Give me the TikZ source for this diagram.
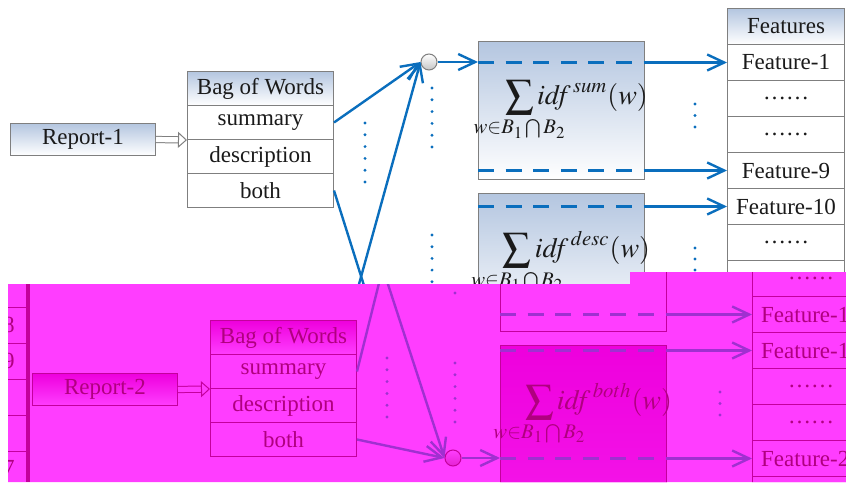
\documentclass[tikz,border=0pt]{standalone}
\usepackage{mathptmx}
\usepackage{mathtools}
\usepackage{fontspec}
\setmainfont{Liberation Serif}
\usetikzlibrary{arrows.meta}
\definecolor{edgegray}{HTML}{7F7F7F}
\definecolor{flowblue}{HTML}{0A6EBD}
\definecolor{shadeblue}{HTML}{B4C6E0}
\definecolor{inkgray}{HTML}{1A1A1A}
\definecolor{magback}{HTML}{FF3DFF}
\definecolor{magdeep}{HTML}{EE00DD}
\definecolor{magink}{HTML}{B0007F}
\definecolor{magedge}{HTML}{C4009C}
\definecolor{magflow}{HTML}{A030D0}
\colorlet{edgec}{edgegray}
\colorlet{inkc}{inkgray}
\colorlet{flowc}{flowblue}
\colorlet{shadec}{shadeblue}
\colorlet{paperc}{white}
\newcommand{\idfsum}[1]{\makebox[0pt]{\hspace{15pt}$\displaystyle\sum_{\mathclap{w\in B_1\bigcap B_2}}\mathit{idf}^{\mkern2mu#1}(w)$}}
\tikzset{
  every node/.style={font=\fontsize{11.5}{13}\selectfont, text=inkc},
  cell/.style={
    rectangle, draw=edgec, fill=paperc, line width=0.5pt,
    minimum width=73pt, minimum height=17pt, inner sep=0pt,
    anchor=north west
  },
  headcell/.style={cell, top color=shadec, bottom color=paperc},
  featcell/.style={cell, minimum width=58.5pt, minimum height=18pt},
  idfbox/.style={
    rectangle, draw=edgec, fill=paperc, line width=0.5pt,
    minimum width=83pt, minimum height=69pt, inner sep=0pt,
    anchor=north west
  },
  shadedbox/.style={idfbox, top color=shadec, bottom color=paperc},
  formula/.style={font=\fontsize{14}{17}\selectfont},
  joint/.style={
    circle, draw=edgec, line width=0.5pt,
    top color=paperc, bottom color=edgec!45!paperc,
    minimum size=8pt, inner sep=0pt
  },
  flow/.style={draw=flowc, line width=1.2pt, -{Straight Barb[length=8.5pt,width=8pt]}},
  plainflow/.style={draw=flowc, line width=1.2pt},
  dashflow/.style={draw=flowc, line width=1.5pt, dash pattern=on 8pt off 5.8pt},
  hollow/.style={
    draw=edgec, line width=0.5pt, double=paperc, double distance=2.6pt,
    -{Triangle[open, length=4.5pt, width=8pt]}
  },
}

\begin{document}
\begin{tikzpicture}[x=0.5pt, y=-0.5pt]
  \useasboundingbox (0,0) rectangle (846,482);

  % report and bag of words
  \node[headcell, minimum width=72.5pt, minimum height=16pt] (rep1) at (10,123) {Report-1};
  \node[headcell] (bag1-0) at (187,71) {Bag of Words};
  \foreach \t [count=\i] in {summary, description, both}
    \node[cell] (bag1-\i) at (187,{71+34*\i}) {\t};
  \draw[hollow] (rep1.east) -- (bag1-1.south west);

  % features table
  \node[featcell, top color=shadec, bottom color=paperc] (feat-0) at (727,8) {Features};
  \foreach \t [count=\i] in {Feature-1, ……, ……, Feature-9, Feature-10, ……, {}}
    \node[featcell] (feat-\i) at (727,{8+36*\i}) {\t};

  % idf boxes
  \node[shadedbox, formula] (sumbox) at (478,41) {\idfsum{sum}};
  \node[shadedbox, formula] (descbox) at (478,193) {\idfsum{desc}};
  \node[joint] (circ1) at (429,62) {};

  \coordinate (cut1) at (367,295);
  \coordinate (cut2) at (356,295);
  \draw[flow] (bag1-1.east) -- (circ1.west);
  \draw[plainflow] (bag1-3.east) -- (cut1);
  \draw[flow] (cut2) -- (circ1.west);
  \draw[flow] (circ1) -- (circ1 -| sumbox.west);
  \draw[dashflow] (sumbox.west |- feat-1) -- (sumbox.east |- feat-1);
  \draw[dashflow] (sumbox.west |- feat-4) -- (sumbox.east |- feat-4);
  \draw[dashflow] (descbox.west |- feat-5) -- (descbox.east |- feat-5);
  \foreach \n in {1,4}
    \draw[flow] (sumbox.east |- feat-\n) -- (feat-\n.west);
  \draw[flow] (descbox.east |- feat-5) -- (feat-5.west);

  % dotted gaps
  \foreach \i in {0,...,5} {
    \fill[flowc] (365,{123+11.8*\i}) circle (0.8pt);
    \fill[flowc] (432,{88+11.8*\i}) circle (0.8pt);
  }
  \foreach \i in {0,...,4}
    \fill[flowc] (432,{235+11.7*\i}) circle (0.8pt);
  \foreach \i in {0,1,2} {
    \fill[flowc] (695,{104+11.5*\i}) circle (0.8pt);
    \fill[flowc] (695,{248+11*\i}) circle (0.8pt);
  }

  % magenta overlay
  \fill[magback] (8,284) -- (630,284) -- (630,272) -- (846,272) -- (846,482) -- (8,482) -- cycle;
  \begin{scope}
    \clip (8,284) -- (630,284) -- (630,272) -- (846,272) -- (846,482) -- (8,482) -- cycle;
    \colorlet{edgec}{magedge}
    \colorlet{inkc}{magink}
    \colorlet{flowc}{magflow}
    \colorlet{shadec}{magdeep}
    \colorlet{paperc}{magback}

    % left strip
    \foreach \y in {271,307,343,379,415,451}
      \draw[edgec, line width=0.5pt] (8,\y) -- (27,\y);
    \draw[edgec, line width=2pt] (28,284) -- (28,482);
    \node[anchor=east, inner sep=0pt] (strip-1) at (15,325) {Feature-18};
    \node[anchor=east, inner sep=0pt] (strip-2) at (15,361) {Feature-19};
    \node[anchor=east, inner sep=0pt] (strip-5) at (15,468) {Feature-27};

    \node[headcell, minimum width=72.5pt, minimum height=16pt] (rep2) at (32,373) {Report-2};
    \node[headcell] (bag2-0) at (210,320) {Bag of Words};
    \foreach \t [count=\i] in {summary, description, both}
      \node[cell] (bag2-\i) at (210,{320+34*\i}) {\t};
    \draw[hollow] (rep2.east) -- (bag2-1.south west);

    \foreach \t [count=\i from 0] in {……, Feature-18, Feature-19, ……, ……, Feature-27, {}}
      \node[featcell] (mfeat-\i) at (752,{260+36*\i}) {\t};

    \node[idfbox] (descbox2) at (500,193) {};
    \node[shadedbox, formula, bottom color=magdeep!70!magback] (bothbox) at (500,345)
      {\idfsum{both}};
    \node[joint] (circ2) at (453,458) {};

    \coordinate (cut3) at (381,275);
    \coordinate (cut4) at (385,275);
    \draw[plainflow] (bag2-1.east) -- (cut3);
    \draw[flow] (cut4) -- (circ2.west);
    \draw[flow] (bag2-3.east) -- (circ2.west);
    \draw[flow] (circ2) -- (circ2 -| bothbox.west);
    \draw[dashflow] (descbox2.west |- mfeat-1) -- (descbox2.east |- mfeat-1);
    \draw[dashflow] (bothbox.west |- mfeat-2) -- (bothbox.east |- mfeat-2);
    \draw[dashflow] (bothbox.west |- mfeat-5) -- (bothbox.east |- mfeat-5);
    \draw[flow] (descbox2.east |- mfeat-1) -- (mfeat-1.west);
    \foreach \n in {2,5}
      \draw[flow] (bothbox.east |- mfeat-\n) -- (mfeat-\n.west);

    \fill[flowc] (455,293) circle (0.8pt);
    \foreach \i in {0,...,5} {
      \fill[flowc] (455,{363+11.8*\i}) circle (0.8pt);
      \fill[flowc] (387,{358+11.8*\i}) circle (0.8pt);
    }
    \foreach \i in {0,1,2}
      \fill[flowc] (720,{392+11.5*\i}) circle (0.8pt);
  \end{scope}
\end{tikzpicture}
\end{document}
